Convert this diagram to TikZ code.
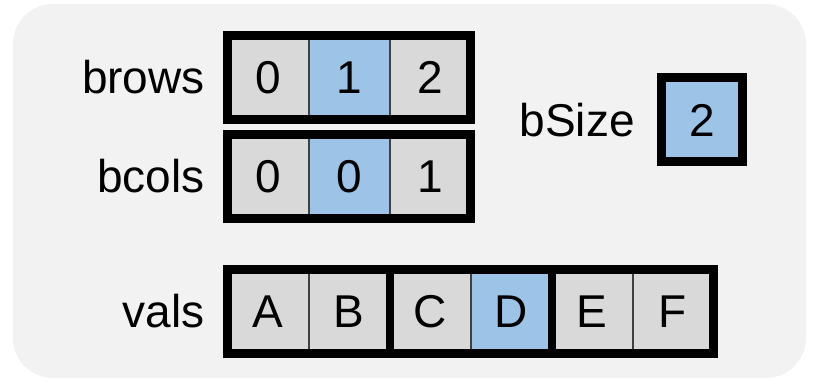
\documentclass[tikz,border=0pt]{standalone}
\usepackage{fontspec}
\setmainfont{Liberation Sans}
\definecolor{panel}{HTML}{F2F2F2}
\definecolor{cellgray}{HTML}{D9D9D9}
\definecolor{cellblue}{HTML}{9DC3E6}
\tikzset{
 cell/.style={rectangle,draw=black!75,line width=2pt,fill=cellgray,
  minimum width=81pt,minimum height=84pt,inner sep=0pt,outer sep=0pt},
 hot/.style={fill=cellblue},
 frame/.style={line width=9pt,line join=miter},
 sep/.style={line width=8pt},
 lbl/.style={anchor=east,inner sep=0pt}
}
\begin{document}
\begin{tikzpicture}[x=1pt,y=1pt,font=\fontsize{46}{50}\selectfont]
 \useasboundingbox (0,0) rectangle (820,382);
 \fill[panel,rounded corners=40pt] (13,4) rectangle (806,378);
 % block row / column arrays
 \foreach \name/\ypos/\a/\b/\c in {brows/304.5/0/1/2,bcols/205.5/0/0/1}{
  \node[cell] (\name0) at (268,\ypos) {\a};
  \node[cell,hot] (\name1) at (349,\ypos) {\b};
  \node[cell] (\name2) at (430,\ypos) {\c};
  \draw[frame] (\name0.north west) rectangle (\name2.south east);
  \node[lbl] (\name) at (205,\ypos) {\name};
 }
 % values, grouped by block size
 \foreach \v/\s [count=\i from 0] in {A/,B/,C/,D/hot,E/,F/}{
  \node[cell,\s] (val\i) at (268+81*\i,70.5) {\v};
 }
 \draw[frame] (val0.north west) rectangle (val5.south east);
 \draw[sep] (val1.north east)--(val1.south east);
 \draw[sep] (val3.north east)--(val3.south east);
 \node[lbl] (vals) at (205,70.5) {vals};
 % block size
 \node[cell,hot] (bsizeval) at (702,262) {2};
 \draw[frame] (bsizeval.north west) rectangle (bsizeval.south east);
 \node[lbl] (bsize) at (635,262) {bSize};
\end{tikzpicture}
\end{document}
